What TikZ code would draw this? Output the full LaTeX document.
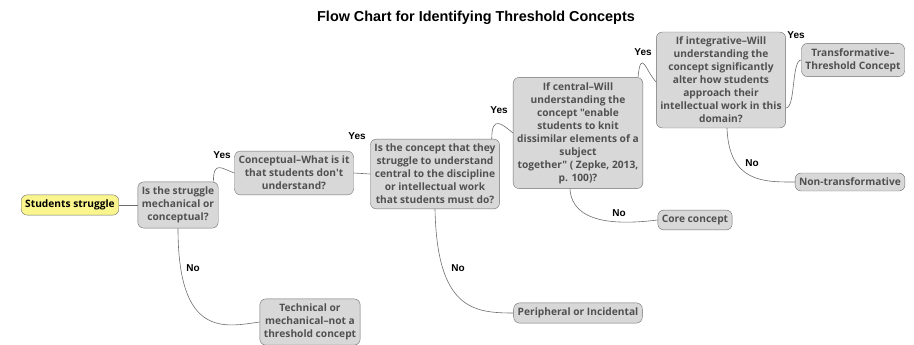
\documentclass[tikz,border=0pt]{standalone}
\usepackage{fontspec}
\usepackage{tikz}
\newfontfamily\boxfont{Open Sans}
\newfontfamily\labfont{Liberation Sans}
\definecolor{boxgray}{RGB}{216,216,216}
\definecolor{boxline}{RGB}{110,110,110}
\definecolor{boxtext}{RGB}{80,80,80}
\definecolor{startyellow}{RGB}{250,245,140}
\tikzset{
  box/.style={draw=boxline, fill=boxgray, rounded corners=6pt, align=center,
    inner xsep=4pt, inner ysep=5pt, text=boxtext,
    font=\boxfont\bfseries\fontsize{10.2}{13}\selectfont},
  startbox/.style={box, fill=startyellow, text=black},
  answer/.style={font=\labfont\bfseries\fontsize{10}{12}\selectfont, inner sep=1pt},
  link/.style={draw=boxline, line width=0.6pt}
}
\begin{document}
\begin{tikzpicture}[x=1pt, y=-1pt]
        \useasboundingbox (0,0) rectangle (914,345);
        \node (title) at (476,18) {\labfont\bfseries\fontsize{14.4}{16}\selectfont Flow Chart for Identifying Threshold Concepts};
        % boxes
        \node[startbox] (S) at (70,205) {Students struggle};
        \node[box] (Q1) at (178,205) {Is the struggle\\mechanical or\\conceptual?};
        \node[box] (C) at (294,173) {Conceptual–What is it\\that students don't\\understand?};
        \node[box] (T) at (310,322) {Technical or\\mechanical–not a\\threshold concept};
        \node[box] (Q2) at (435,174) {Is the concept that they\\struggle to understand\\central to the discipline\\or intellectual work\\that students must do?};
        \node[box] (P) at (578,313) {Peripheral or Incidental};
        \node[box] (Q3) at (578,133) {If central–Will\\understanding the\\concept "enable\\students to knit\\dissimilar elements of a\\subject\\together" ( Zepke, 2013,\\p. 100)?};
        \node[box] (K) at (695,220) {Core concept};
        \node[box] (Q4) at (721,80) {If integrative–Will\\understanding the\\concept significantly\\alter how students\\approach their\\intellectual work in this\\domain?};
        \node[box] (TC) at (853,60) {Transformative–\\Threshold Concept};
        \node[box] (N) at (850,182) {Non-transformative};
        % yes / no
        \node[answer] (y1) at (222,155) {Yes};
        \node[answer] (n1) at (193,268) {No};
        \node[answer] (y2) at (357,136) {Yes};
        \node[answer] (n2) at (458,268) {No};
        \node[answer] (y3) at (499,110) {Yes};
        \node[answer] (n3) at (619,213) {No};
        \node[answer] (y4) at (643,52) {Yes};
        \node[answer] (y5) at (796,35) {Yes};
        \node[answer] (n4) at (752,163) {No};
        % links
        \draw[link] (S.east) -- (Q1.west);
        \draw[link] ([xshift=-5pt]Q1.north east) .. controls +(0,-22) and +(-12,-4) .. (C.west);
        \draw[link] (Q1.south) .. controls +(0,110) and +(-35,5) .. (T.west);
        \draw[link] (C.east) -- (Q2.west);
        \draw[link] ([xshift=-8pt]Q2.north east) .. controls +(0,-25) and +(-10,-8) .. (Q3.west);
        \draw[link] (Q2.south) .. controls +(2,100) and +(-40,0) .. (P.west);
        \draw[link] ([xshift=-5pt]Q3.north east) .. controls +(3,-30) and +(-10,-10) .. ([yshift=-2pt]Q4.west);
        \draw[link] ([xshift=-8pt]Q3.south) .. controls +(2,35) and +(-40,5) .. (K.west);
        \draw[link] ([yshift=-28pt]Q4.east) .. controls +(10,0) and +(-10,0) .. (TC.west);
        \draw[link] ([xshift=6pt]Q4.south) .. controls +(2,55) and +(-30,0) .. (N.west);
      \end{tikzpicture}
\end{document}
